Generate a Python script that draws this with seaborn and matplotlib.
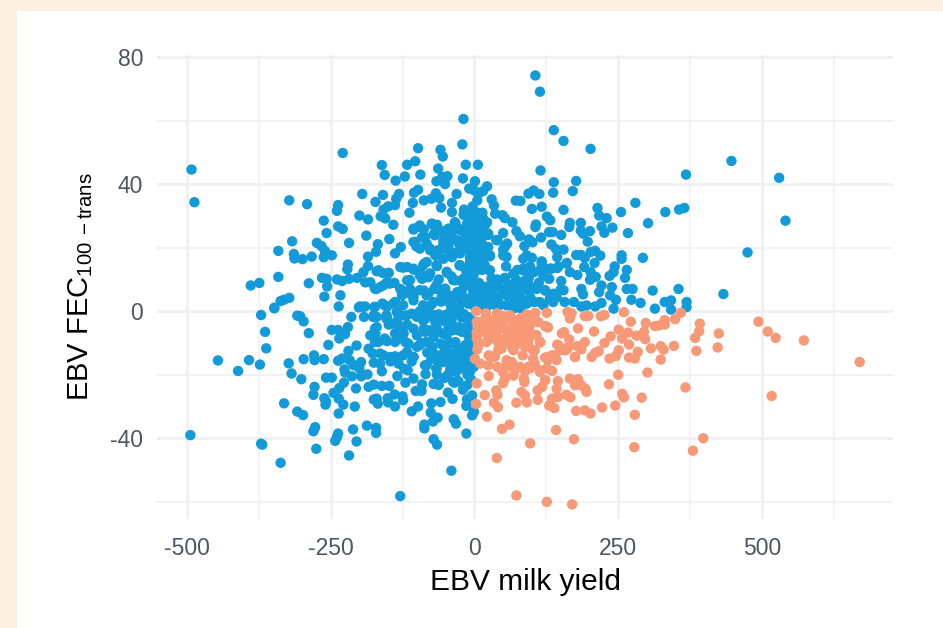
import matplotlib
matplotlib.use("Agg")
import matplotlib.pyplot as plt
from matplotlib.patches import Rectangle
from matplotlib.ticker import FixedLocator
import pandas as pd
import seaborn as sns

blue_upper_left = [(-492,44.6),(-487,34.3),(-229,49.8),(-322,34.9),(-291,33.7),(-237,33.4),(-239,31.6),(-195,36.9),(-161,46),(-156,42.9),(-137,41.1),(-121,42.4),(-117,46.1),(-103,47.2),(-94,43),(-98,51.3),(-59,50.8),(-55,48.7),(-63,44.9),(-66,40.9),(-56,42.3),(-47,42.5),(-51,40),(-20,41.8),(-21,52.5),(-19,60.5),(-15,46.1),(-9,38.6),(-159,36.6),(-172,34.4),(-131,36.9),(-136,35.4),(-138,33.4),(-150,33),(-158,32),(-163,29.9),(-155,29.2),(-200,30.1),(-185,28.9),(-141,27.2),(-113,31),(-107,34.1),(-105,37.3),(-98,38.2),(-88,34.9),(-75,35.4),(-67,37.1),(-61,35.6),(-58,32.6),(-39,34.1),(-31,36.9),(-39,31.2),(-19,30.4),(-10,30.7),(-262,28.5),(-257,24.6),(-237,26.7),(-229,25.9),(-188,23.8),(-218,21.5),(-148,22.7),(-168,21.1),(-171,18.7),(-128,20.2),(-138,18.2),(-185,17.2),(-317,22),(-341,19),(-314,18),(-313,16.6),(-299,16.4),(-283,17.2),(-274,21.5),(-266,20.5),(-260,19),(-262,17),(-248,17.6),(-220,14.7),(-221,13.2),(-185,14.2),(-193,12.3),(-170,12.6),(-160,12.1),(-149,12.1),(-341,10.8),(-389,8.1),(-374,8.9),(-288,8.8),(-265,10.5),(-257,10.2),(-256,7.8),(-239,10),(-230,9.5),(-218,10.2),(-204,10.5),(-190,9.1),(-181,9.1),(-170,7),(-163,7.7),(-152,9.2),(-139,8.9),(-261,4.6),(-233,5),(-322,4.2),(-331,3.6),(-337,3.2),(-348,1.1),(-236,1.5),(-199,1.5),(-190,1.5),(-174,1.3),(-160,2.4),(-141,2.4),(-129,13.9),(-117,13.9),(-106,13.1),(-94,12.3),(-87,15),(-65,14.2),(-48,12.1),(-26,14.4),(-80,10.7),(-91,10.2),(-117,9.7),(-129,7),(-112,7),(-126,5),(-106,4.5),(-88,6.5),(-83,5),(-65,7),(-51,7),(-33,9.7),(-22,6.5),(-51,3.4),(-106,25.7),(-97,26.5),(-88,25.8),(-72,27.2),(-65,27.2),(-70,24.4),(-55,25.2),(-45,26),(-33,27.8),(-22,25.5),(-13,27.5),(-4,29.7),(-106,21.8),(-101,20.4),(-91,23.3),(-83,21.3),(-77,19.2),(-68,17.6),(-54,22.3),(-54,19.7),(-54,16.5),(-39,17),(-42,22.3),(-27,21.3),(-30,18.6),(-16,23.4),(-16,19.7),(-7,22.3),(-7,16)]

blue_upper_right = [(106,74.2),(114,69.1),(138,57),(155,53.6),(202,51.1),(447,47.3),(368,43),(530,42),(541,28.5),(475,18.5),(433,5.4),(6,46.1),(1,40.9),(22,39.3),(15,37.8),(7,37),(5,34.9),(30,35.2),(34,33.3),(36,30.7),(49,30.2),(53,29.3),(66,28),(72,34.8),(80,34.7),(94,37),(103,38),(113,36.9),(115,44.3),(138,40.6),(137,37.3),(177,41),(171,37.8),(100,32.2),(117,32.9),(155,31.9),(126,29.8),(132,28.6),(107,27.3),(106,26.5),(166,27.8),(165,26.5),(185,27.8),(185,25.4),(201,25.2),(189,24.4),(214,32.5),(217,30.1),(230,29.3),(221,26.7),(226,24.7),(240,26.3),(255,31.2),(280,34.1),(302,27.7),(267,24.6),(332,31.2),(356,32),(365,32.5),(130,24.9),(136,24.9),(151,24),(116,23.2),(50,24.6),(73,25.2),(79,23.6),(95,22.6),(101,21.7),(87,20.5),(134,21),(142,19.5),(155,19.4),(144,17),(197,21.9),(177,17.7),(185,17.7),(192,16.8),(202,18.6),(210,19),(219,17.5),(209,15.2),(256,17.6),(256,16.5),(293,16.8),(191,13.9),(161,15.2),(244,14.1),(242,12.3),(235,11.1),(265,13),(262,10.5),(265,7),(275,7),(310,6.5),(355,7),(202,12.3),(211,10.8),(201,9.9),(179,11.4),(166,12.3),(144,13.6),(131,13.4),(117,15.7),(116,13.4),(104,12.3),(91,17.6),(100,16.8),(85,16.5),(57,21.3),(50,19.4),(40,22.3),(24,24.4),(10,26),(4,21.8),(24,20.2),(27,17.3),(56,17.1),(55,14.1),(11,18.1),(26,12.8),(7,13.4),(130,10.2),(151,9.5),(85,13.4),(68,11.8),(53,10.5),(30,10.2),(8,8.9),(24,7),(44,7.6),(71,8.6),(88,9.7),(94,6.5),(108,7),(123,6.5),(150,6.8),(186,7),(189,5.3),(221,8.1),(217,6),(239,7.6),(236,5),(246,3.6),(273,3.6),(289,2.6),(331,2.9),(342,3.4),(369,2.9),(369,1.3),(314,0.8),(342,0.5),(242,0.8),(221,2.6),(210,1.5),(195,1.8),(186,1.5),(173,2.9),(157,2.9),(143,4.4),(131,3.9),(114,2.9),(97,4.4),(79,5),(68,3.9),(56,5),(41,3.9),(27,4.4),(10,3.4),(-2,4.4)]

blue_lower_left = [(-371,-1.2),(-348,0.9),(-364,-6.5),(-362,-11.7),(-446,-15.5),(-392,-15.4),(-411,-18.8),(-373,-16.8),(-308,-1.4),(-303,-1.6),(-297,-3.2),(-288,-6.9),(-214,-1.8),(-248,-5.9),(-237,-5.9),(-220,-5),(-225,-7.2),(-235,-8.6),(-254,-10.6),(-205,-10.8),(-219,-12.5),(-323,-16.4),(-297,-15.1),(-279,-13.9),(-278,-15.4),(-262,-15.1),(-318,-19.6),(-301,-21.4),(-258,-20.9),(-248,-20.9),(-237,-15.6),(-230,-14.9),(-217,-15.4),(-226,-18.3),(-225,-19.3),(-213,-20.5),(-210,-17),(-197,-16),(-200,-18),(-186,-19.9),(-197,-20.5),(-227,-22.5),(-235,-24.2),(-245,-25.7),(-236,-27.5),(-228,-29.4),(-206,-24.3),(-208,-30),(-236,-32.2),(-278,-23.8),(-280,-26.3),(-261,-27.4),(-258,-28.4),(-259,-29.4),(-331,-29),(-308,-31.6),(-298,-32.7),(-277,-36.5),(-280,-37.8),(-237,-38.5),(-239,-39.6),(-242,-40.8),(-211,-37.2),(-205,-41),(-187,-36),(-171,-36.7),(-171,-38.3),(-275,-43.3),(-218,-45.4),(-494,-39),(-371,-41.7),(-369,-42),(-337,-47.7),(-129,-58.2),(-40,-50.2),(-14,-38.5),(-71,-40.3),(-65,-42),(-87,-35.7),(-87,-36.9),(-72,-34.7),(-64,-33.5),(-76,-31.9),(-75,-29),(-59,-28.6),(-36,-34),(-32,-35.4),(-109,-31.5),(-98,-30),(-138,-30),(-150,-28.7),(-151,-27.4),(-168,-29.1),(-170,-27.5),(-175,-27.8),(-125,-26.8),(-124,-28),(-139,-26.2),(-148,-23.5),(-161,-23.5),(-175,-23.1),(-184,-23.8),(-134,-20.4),(-120,-22.5),(-106,-21.2),(-91,-23),(-102,-25.1),(-92,-25.1),(-71,-22.9),(-62,-23.2),(-46,-25.6),(-38,-27.6),(-34,-22.5),(-20,-24.7),(-13,-27.7),(-14,-29.8),(-4,-32.8),(-1,-31.7),(-4,-26.5),(-6,-21.5),(-8,-19.1),(-85,-19.8),(-83,-17),(-66,-18),(-65,-20),(-46,-20),(-32,-19.1),(-25,-17.2),(-161,-18.9),(-164,-16.5),(-175,-16.2),(-164,-13.3),(-177,-13.3),(-184,-11.8),(-181,-7.6),(-172,-7),(-170,-5),(-167,-9.7),(-192,-1.8),(-193,1.4),(-201,1.2),(-175,-1.3),(-152,1.4),(-152,-1.8),(-149,-4.2),(-132,-1.8),(-132,-4.4),(-117,-4.2),(-100,-1.8),(-138,-7),(-123,-7),(-152,-9.4),(-138,-9.7),(-120,-9.7),(-100,-7.6),(-85,-2.3),(-88,-5.5),(-71,-1.3),(-68,-3.4),(-146,-14.4),(-138,-14.2),(-146,-15.8),(-132,-16.5),(-122,-18.1),(-116,-18.6),(-117,-12.8),(-106,-14.4),(-109,-15.8),(-100,-11.2),(-83,-9.7),(-71,-8.1),(-59,-10.2),(-48,-7.6),(-33,-9.7),(-22,-6.5),(-10,-8.1),(-74,-12.3),(-62,-13.9),(-51,-11.8),(-39,-13.3),(-27,-11.8),(-16,-10.7),(-36,-16),(-48,-15.4),(-22,-14.4),(-4,-15.4),(-1,-17.5)]

blue_core = [(-10,30),(-3,33),(5,31),(10,30),(-8,25),(-3,23),(3,28),(8,24),(14,31),(18,27),(-14,20),(-8,17),(-2,19),(5,18),(12,22),(17,17),(22,28),(-18,32),(0,38),(-5,28),(2,24),(-12,24),(-24,22),(-28,26),(6,15),(-5,13),(-15,13),(13,13),(40,10),(50,6),(60,8),(66,4),(72,10),(78,7),(84,3),(90,9),(96,8),(102,3),(60,2),(70,1),(80,1),(45,2),(35,2),(30,7),(20,1),(12,6),(3,8),(-3,2),(-8,8),(-14,4),(-20,3),(-27,1),(-33,4),(-40,1),(-45,5),(-58,3),(-62,10),(-70,7),(-75,2),(-80,0),(-95,0),(-62,-1),(-55,-3),(-48,-1),(-40,-3),(-30,-1),(-22,-2),(-12,-2),(-5,-3),(-2,-7),(-15,-5),(-28,-5),(-38,-6),(-55,-7),(-65,-6),(-78,-6),(-92,-10),(-82,-13),(-68,-15),(-55,-16),(-42,-10),(-30,-14),(-12,-12),(-6,-13),(-18,-17),(-12,-20),(-28,-22),(-52,-21),(-75,-15),(-3,-10),(-20,9),(-30,6),(-40,11),(-12,11),(-2,11),(75,13),(95,11),(112,9),(120,11)]

blue_dense_left = [(-106,26),(-95,27),(-74,27.6),(-54,25),(-34,28),(-16,30.2),(-2,30.7),(-103,21.8),(-86,23.4),(-69,23.9),(-54,21.3),(-40,24.5),(-25,25.5),(-11,27.6),(4,26.5),(-95,19.7),(-77,19.7),(-63,19.2),(-45,20.3),(-31,22.4),(-13,23.4),(1,22.4),(-83,15.5),(-66,14.5),(-42,18.2),(-25,18.2),(-8,19.2),(7,18.2),(-124,13.7),(-106,13.4),(-89,14.5),(-77,11.9),(-95,11.3),(-112,9.8),(-48,12.4),(-25,14.5),(-8,15),(4,12.9),(-66,8.2),(-51,7.1),(-37,9.8),(-19,10.3),(-2,9.8),(-127,6.6),(-112,5.5),(-95,6.6),(-80,5.5),(-147,8.7),(-158,8.2),(-173,7.1),(-167,12.9),(-150,11.9),(-124,1.9),(-106,3.4),(-89,1.9),(-71,2.9),(-57,4.5),(-42,2.4),(-25,4.5),(-11,2.4),(4,4.5),(-173,1.4),(-156,1.9),(-138,2.9),(-135,-0.2),(-118,-1.3),(-86,-1.8),(-71,-1.3),(-37,-0.2),(-19,-0.8),(-153,-1.3),(-176,-1.8)]

blue_dense_right = [(1,30.7),(-2,27.1),(15,29.2),(12,25),(24,24),(1,19.7),(18,20.3),(27,17.6),(38,22.4),(53,20.3),(50,17.6),(4,15.5),(18,14.5),(-2,12.9),(27,12.9),(30,10.3),(53,10.3),(68,11.9),(85,12.9),(7,8.7),(21,7.7),(41,7.7),(62,8.2),(79,8.2),(94,10.3),(-2,6.1),(10,4.5),(33,5),(50,5.5),(68,5.5),(79,3.4),(108,7.1),(123,6.6),(137,5.5),(155,6.6),(21,1.9),(38,2.4),(56,1.9),(70,1.9),(91,2.4),(105,2.9),(120,1.9),(137,2.9),(4,1.9),(97,14),(117,15),(134,13.4),(146,14),(160,15)]

blue_dense_lower = [(-127,-1.3),(-109,-0.8),(-89,-2.9),(-71,-1.8),(-51,-1.3),(-31,-0.8),(-11,-1.8),(-127,-6),(-106,-5.5),(-86,-6.5),(-66,-5),(-45,-5),(-28,-6),(-11,-5.5),(-173,-9.7),(-156,-8.6),(-132,-8.6),(-115,-10.2),(-95,-10.7),(-74,-11.2),(-54,-10.7),(-37,-10.2),(-16,-11.2),(-158,-13.9),(-144,-14.9),(-124,-13.9),(-106,-14.4),(-66,-14.9),(-48,-14.4),(-28,-14.9),(-11,-14.9),(-66,-18.1),(-42,-18.1),(-25,-18.1),(-86,-17),(-11,-19.1),(-170,-1.8),(-153,-2.3),(-141,-3.9),(-173,-5.5),(-37,-22.3),(-13,-23.3)]

orange_points = [(670,-16),(494,-3.3),(510,-6.4),(524,-8.4),(573,-9.2),(517,-26.7),(425,-7),(423,-11.4),(392,-3.9),(391,-6.3),(384,-8.4),(386,-12.5),(367,-24),(398,-40),(380,-43.9),(278,-42.8),(173,-40.3),(97,-41.6),(39,-46.2),(73,-58),(126,-60),(170,-60.8),(142,-37.4),(61,-35.7),(48,-37),(22,-33.2),(3,-29.2),(4,-22.7),(18,-26.4),(34,-28.8),(41,-30.2),(38,-24.9),(40,-26.3),(25,-20.4),(73,-28.8),(82,-25.4),(88,-26.5),(91,-28.7),(110,-24.9),(110,-27.9),(118,-23.8),(123,-21.7),(130,-29.7),(139,-30.5),(135,-27.5),(145,-27),(143,-24.4),(145,-22),(160,-26.3),(167,-27.1),(166,-21.2),(180,-21.4),(175,-23.3),(186,-23.3),(193,-24.4),(195,-25.4),(177,-31.4),(192,-31.2),(202,-32.2),(222,-30.3),(245,-29.7),(279,-32.6),(257,-26),(260,-27.1),(291,-27.2),(234,-23),(250,-20),(301,-19.3),(324,-15.2),(347,-10.9),(329,-12.1),(324,-11),(307,-11.7),(269,-10.5),(284,-12.8),(279,-14.9),(269,-14.6),(251,-12.3),(246,-14.1),(235,-14.9),(216,-12.6),(210,-13.1),(204,-14.4),(226,-10),(237,-7.9),(251,-5.8),(257,-8.6),(267,-6.7),(282,-7.7),(297,-8.8),(295,-6.5),(272,-3.3),(298,-3.7),(314,-4.7),(321,-4.5),(331,-2.8),(331,-4.2),(349,-2.5),(359,-0.5),(260,-0.3),(220,-1.6),(226,-1.2),(192,-1.5),(198,-1.5),(208,-6.4),(180,-5.4),(152,-7),(156,-6.6),(165,-8.9),(144,-10.5),(149,-12.3),(162,-11.8),(158,-12.3),(192,-9.7),(179,-11),(186,-12),(175,-14.4),(162,-0.2),(169,-0.7),(166,-2.3),(126,-0.5),(111,-3.4),(123,-4.7),(128,-5.1),(114,-9.9),(84,-13.9),(105,-12.3),(102,-14.9),(105,-16.5),(114,-19.1),(126,-18),(135,-18.8),(143,-15.4),(135,-13.9),(123,-14.6),(128,-15.4),(139,-13.9),(1,-15),(10,-16.5),(24,-17),(40,-17.5),(56,-16.5),(65,-16),(50,-19.1),(53,-21.2),(50,-22.6),(68,-20.2),(73,-18),(88,-18.8),(94,-17.5),(86,-21.2),(87,-22.3),(25,-13.9),(36,-14.2),(41,-12.3),(47,-10.7),(62,-9.7),(68,-12.3),(79,-10.2),(94,-10.7),(3,0),(20,-0.7),(39,-0.7),(62,-1.3),(91,-1),(106,-0.5),(7,-4.4),(18,-3.9),(33,-2.8),(47,-3.4),(65,-2.8),(79,-2.3),(94,-3.4),(4,-7),(15,-6.5),(30,-5.5),(44,-5.5),(56,-5.5),(71,-5.5),(85,-4.9),(97,-6.5),(7,-10.2),(21,-9.7),(39,-8.1),(53,-8.6),(73,-7.6),(85,-7),(4,-8.6),(44,-10.7),(15,-3),(28,-8),(60,-7),(76,-4),(50,-1.5),(88,-8.5),(5,-12),(100,-2)]

orange_dense = [(4,-3.4),(18,-2.8),(36,-3.4),(53,-2.3),(70,-3.4),(88,-2.3),(99,-3.9),(4,-6.5),(21,-6),(38,-6.5),(56,-6),(73,-6),(91,-5.5),(24,-9.1),(41,-9.7),(59,-8.6),(76,-8.6),(94,-9.1),(7,-10.7),(47,-11.8),(65,-11.2),(88,-11.2),(102,-12.3),(56,-15.4),(65,-17.5),(33,-14.4),(79,-17.5),(97,-18),(50,-19.1),(68,-20.2),(108,-7.5),(114,-9.6),(126,-4.9),(128,-14.4),(140,-14.9),(114,-18.6),(123,-21.7),(146,-10.7),(163,-11.2),(175,-14.4)]

tick_x = [-500, -250, 0, 250, 500]
tick_y = [-40, 0, 40, 80]
minor_x = [-375, -125, 125, 375, 625]
minor_y = [-60, -20, 20, 60]

blue_all = blue_upper_left + blue_upper_right + blue_lower_left + blue_core + blue_dense_left + blue_dense_right + blue_dense_lower
orange_all = orange_points + orange_dense
df = pd.DataFrame(
    [(x, y, "high") for x, y in blue_all] + [(x, y, "low") for x, y in orange_all],
    columns=["milk", "fec", "group"],
)

plt.rcParams["mathtext.fontset"] = "custom"
plt.rcParams["mathtext.rm"] = "Liberation Sans"
plt.rcParams["mathtext.default"] = "regular"
plt.rcParams["axes.unicode_minus"] = False
plt.rcParams["font.family"] = ["Liberation Sans", "DejaVu Sans"]

fig = plt.figure(figsize=(9.43, 6.28), dpi=100, facecolor="#FDF0E3")
fig.add_artist(Rectangle((17 / 943, 0), 926 / 943, 617 / 628, transform=fig.transFigure,
                         facecolor="white", edgecolor="none", zorder=-1))
ax = fig.add_axes([157 / 943, (628 - 519) / 628, (893 - 157) / 943, (519 - 54.5) / 628])
ax.patch.set_alpha(0)
sns.scatterplot(data=df, x="milk", y="fec", hue="group",
                palette={"high": "#129BD8", "low": "#F79877"},
                s=56, linewidth=0, alpha=1, legend=False, ax=ax, zorder=3, clip_on=False)

ax.set_xlim(-552, 728)
ax.set_ylim(-65.4, 80.8)
ax.xaxis.set_major_locator(FixedLocator(tick_x))
ax.yaxis.set_major_locator(FixedLocator(tick_y))
ax.xaxis.set_minor_locator(FixedLocator(minor_x))
ax.yaxis.set_minor_locator(FixedLocator(minor_y))
ax.grid(which="major", color="#F0F0F0", linewidth=2.0)
ax.grid(which="minor", color="#F0F0F0", linewidth=1.2)
ax.set_axisbelow(True)
for s in ax.spines.values():
    s.set_visible(False)
ax.tick_params(which="both", length=0)
ax.tick_params(axis="y", which="major", labelsize=16.5, labelcolor="#4D5563", pad=10)
ax.tick_params(axis="x", which="major", labelsize=16.5, labelcolor="#4D5563", pad=13)
ax.set_xlabel("EBV milk yield", fontsize=21.5, color="black", labelpad=6)
ax.set_ylabel(r"EBV FEC$_{100\,-trans}$", fontsize=21, color="black", labelpad=11)
fig.savefig("out.png", dpi=100, facecolor=fig.get_facecolor())
